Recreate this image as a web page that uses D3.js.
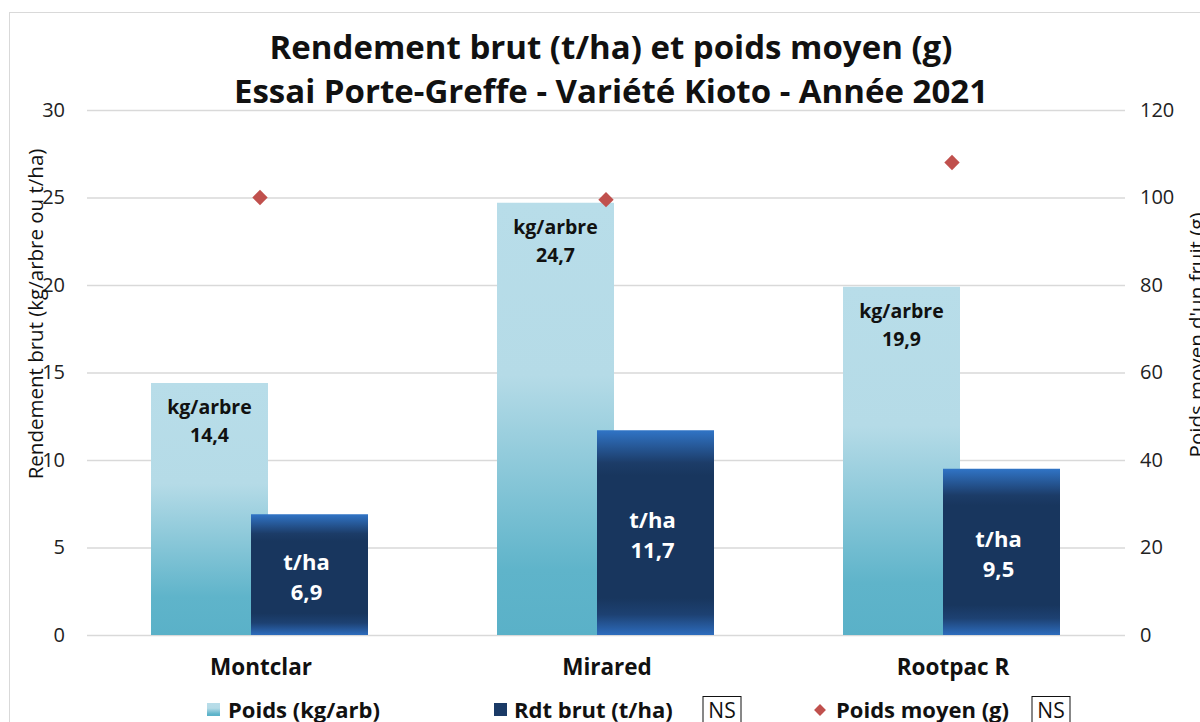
<!DOCTYPE html>
<html>
<head>
<meta charset="utf-8">
<script src="https://cdn.jsdelivr.net/npm/d3@7"></script>
<style>
  html, body { margin: 0; padding: 0; background: #fff; }
  svg { display: block; font-family: "Open Sans", "Noto Sans", sans-serif; }
</style>
</head>
<body>
<svg id="chart" width="1200" height="722"></svg>
<script>
// porte-greffes, Kioto 2021
const categories = ["Montclar", "Mirared", "Rootpac R"];
const poidsArbre = [14.4, 24.7, 19.9];   // kg/arbre
const rdtBrut = [6.9, 11.7, 9.5];        // t/ha
const poidsMoyen = [100, 99.5, 108];     // g
const leftTicks = [0, 5, 10, 15, 20, 25, 30];
const rightTicks = [0, 20, 40, 60, 80, 100, 120];

const fmt = v => v.toFixed(1).replace(".", ",");

const svg = d3.select("#chart");
const W = 1200, H = 722;
const m = { left: 87, right: 75, top: 110, bottom: 87 };

// chart frame
svg.append("rect").attr("x", 9.5).attr("y", 12.5)
  .attr("width", W + 20).attr("height", H)
  .attr("fill", "none").attr("stroke", "#d9d9d9");

const x = d3.scaleBand(categories, [m.left, W - m.right]);
const y = d3.scaleLinear([0, 30], [H - m.bottom, m.top]);
const y2 = d3.scaleLinear([0, 120], [H - m.bottom, m.top]);

// gradients
const defs = svg.append("defs");
const g1 = defs.append("linearGradient").attr("id", "gLight")
  .attr("x1", 0).attr("y1", 0).attr("x2", 0).attr("y2", 1);
[[0, "#b8dde9"], [0.4, "#b5dbe7"], [0.85, "#5fb4ca"], [1, "#5ab1c8"]]
  .forEach(([o, c]) => g1.append("stop").attr("offset", o).attr("stop-color", c));
const g2 = defs.append("linearGradient").attr("id", "gDark")
  .attr("x1", 0).attr("y1", 0).attr("x2", 0).attr("y2", 1);
[[0, "#3074c6"], [0.16, "#1c3c68"], [0.22, "#18365e"], [0.82, "#18365e"], [0.9, "#1d4172"], [1, "#2d6cbd"]]
  .forEach(([o, c]) => g2.append("stop").attr("offset", o).attr("stop-color", c));

// grid + axes
svg.append("g")
  .attr("transform", `translate(${m.left},0)`)
  .call(d3.axisLeft(y).tickValues(leftTicks).tickSize(-(W - m.left - m.right)).tickPadding(22))
  .call(g => g.select(".domain").remove())
  .call(g => g.selectAll("line").attr("stroke", "#d9d9d9").attr("stroke-width", 1.3));
svg.append("g")
  .attr("transform", `translate(${W - m.right},0)`)
  .call(d3.axisRight(y2).tickValues(rightTicks).tickSize(0).tickPadding(15))
  .call(g => g.select(".domain").remove());

svg.selectAll(".tick text").attr("font-size", 20).attr("fill", "#222")
  .attr("font-family", "'Open Sans', sans-serif");

// bars
const bw = 117, off = 100;
const c0 = i => x(categories[i]) + x.bandwidth() / 2;

categories.forEach((cat, i) => {
  const lx = c0(i) - 109;
  svg.append("rect").attr("x", lx).attr("y", y(poidsArbre[i]))
    .attr("width", bw).attr("height", y(0) - y(poidsArbre[i]))
    .attr("fill", "url(#gLight)");
  const dx = lx + off;
  svg.append("rect").attr("x", dx).attr("y", y(rdtBrut[i]))
    .attr("width", bw).attr("height", y(0) - y(rdtBrut[i]))
    .attr("fill", "url(#gDark)");

  const lt = svg.append("text").attr("text-anchor", "middle")
    .attr("font-weight", 700).attr("font-size", 19.5).attr("fill", "#111");
  lt.append("tspan").attr("x", lx + bw / 2).attr("y", y(poidsArbre[i]) + 31).text("kg/arbre");
  lt.append("tspan").attr("x", lx + bw / 2).attr("y", y(poidsArbre[i]) + 59).text(fmt(poidsArbre[i]));

  const mid = (y(rdtBrut[i]) + y(0)) / 2;
  const dt = svg.append("text").attr("text-anchor", "middle")
    .attr("font-weight", 700).attr("font-size", 22).attr("fill", "#fff");
  dt.append("tspan").attr("x", dx + bw / 2 - 3).attr("y", mid - 5).text("t/ha");
  dt.append("tspan").attr("x", dx + bw / 2 - 3).attr("y", mid + 25).text(fmt(rdtBrut[i]));

  svg.append("path")
    .attr("d", d3.symbol(d3.symbolDiamond2, 150)())
    .attr("transform", `translate(${c0(i)},${y2(poidsMoyen[i])})`)
    .attr("fill", "#c0504d");

  svg.append("text").attr("x", c0(i) + 1).attr("y", 675)
    .attr("text-anchor", "middle").attr("font-weight", 700)
    .attr("font-size", 22.5).attr("fill", "#111").text(cat);
});

// titles
const title = svg.append("text").attr("text-anchor", "middle")
  .attr("font-weight", 700).attr("font-size", 33).attr("fill", "#111");
title.append("tspan").attr("x", 611).attr("y", 59).text("Rendement brut (t/ha) et poids moyen (g)");
title.append("tspan").attr("x", 611).attr("y", 103).text("Essai Porte-Greffe - Variété Kioto - Année 2021");

svg.append("text").attr("transform", "translate(43,314) rotate(-90)")
  .attr("text-anchor", "middle").attr("font-size", 20.5).attr("fill", "#111")
  .text("Rendement brut (kg/arbre ou t/ha)");
svg.append("text").attr("transform", "translate(1204,335) rotate(-90)")
  .attr("text-anchor", "middle").attr("font-size", 20.5).attr("fill", "#111")
  .text("Poids moyen d'un fruit (g)");

// legend
const lg = svg.append("g").attr("font-weight", 700).attr("font-size", 22).attr("fill", "#111");
lg.append("rect").attr("x", 207).attr("y", 703).attr("width", 13).attr("height", 13).attr("fill", "url(#gLight)");
lg.append("text").attr("x", 228).attr("y", 718).text("Poids (kg/arb)");
lg.append("rect").attr("x", 494).attr("y", 703).attr("width", 13).attr("height", 13).attr("fill", "#1a3a66");
lg.append("text").attr("x", 514).attr("y", 718).text("Rdt brut (t/ha)");
lg.append("path").attr("d", d3.symbol(d3.symbolDiamond2, 90)())
  .attr("transform", "translate(820,710)").attr("fill", "#c0504d");
lg.append("text").attr("x", 836).attr("y", 718).text("Poids moyen (g)");
[703, 1032].forEach(bx => {
  lg.append("rect").attr("x", bx).attr("y", 696.5).attr("width", 38).attr("height", 26)
    .attr("fill", "#fff").attr("stroke", "#111").attr("stroke-width", 1);
  lg.append("text").attr("x", bx + 19).attr("y", 718).attr("text-anchor", "middle")
    .attr("font-weight", 400).attr("font-size", 21).text("NS");
});
</script>
</body>
</html>
